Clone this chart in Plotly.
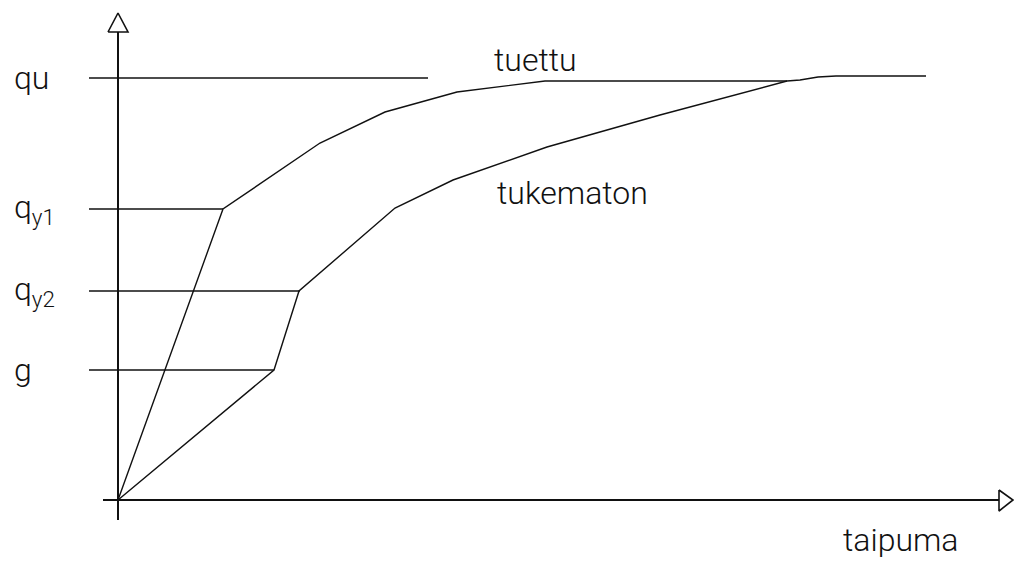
import plotly.graph_objects as go

# Load levels (q_u, q_y1, q_y2, g)
level_names = ["qu", "q<sub>y1</sub>", "q<sub>y2</sub>", "g"]
level_values = [4.22, 2.91, 2.09, 1.30]
level_line_ends = [3.10, 1.05, 1.82, 1.56]

# Load–deflection curves
tuettu_x = [0, 1.05, 2.02, 2.67, 3.39, 4.27, 6.69]
tuettu_y = [0, 2.91, 3.57, 3.88, 4.08, 4.19, 4.19]

tukematon_x = [0, 1.56, 1.81, 2.77, 3.35, 4.29, 5.42, 6.69, 6.82, 7.00, 7.18, 8.08]
tukematon_y = [0, 1.30, 2.09, 2.92, 3.20, 3.53, 3.85, 4.19, 4.20, 4.23, 4.24, 4.24]

curve_labels = ["tuettu", "tukematon"]
x_label = "taipuma"

INK = "#111111"
FONT = "Roboto"

fig = go.Figure()

# Horizontal level lines
for val, xend in zip(level_values, level_line_ends):
    fig.add_trace(go.Scatter(x=[-0.29, xend], y=[val, val], mode="lines",
                             line=dict(color=INK, width=1.6), hoverinfo="skip"))

# Curves
fig.add_trace(go.Scatter(x=tuettu_x, y=tuettu_y, mode="lines",
                         line=dict(color=INK, width=1.4), name=curve_labels[0]))
fig.add_trace(go.Scatter(x=tukematon_x, y=tukematon_y, mode="lines",
                         line=dict(color=INK, width=1.4), name=curve_labels[1]))

# Axes with open arrow heads
fig.add_trace(go.Scatter(x=[0, 0], y=[-0.20, 4.68], mode="lines",
                         line=dict(color=INK, width=2), hoverinfo="skip"))
fig.add_trace(go.Scatter(x=[-0.15, 8.81], y=[0, 0], mode="lines",
                         line=dict(color=INK, width=2), hoverinfo="skip"))
fig.add_trace(go.Scatter(x=[-0.10, 0, 0.10, -0.10], y=[4.68, 4.87, 4.68, 4.68],
                         mode="lines", fill="toself", fillcolor="white",
                         line=dict(color=INK, width=1.6), hoverinfo="skip"))
fig.add_trace(go.Scatter(x=[8.81, 8.95, 8.81, 8.81], y=[0.10, 0, -0.11, 0.10],
                         mode="lines", fill="toself", fillcolor="white",
                         line=dict(color=INK, width=1.6), hoverinfo="skip"))

font = dict(family=FONT, size=32, color=INK, weight=300)
for name, val in zip(level_names, level_values):
    fig.add_annotation(x=-1.06, y=val, text=name, showarrow=False,
                       xanchor="left", yanchor="middle", font=font)

fig.add_annotation(x=4.17, y=4.40, text=curve_labels[0], showarrow=False, font=font)
fig.add_annotation(x=4.54, y=3.07, text=curve_labels[1], showarrow=False, font=font)
fig.add_annotation(x=7.83, y=-0.40, text=x_label, showarrow=False, font=font)

fig.update_layout(
    width=1014, height=563, autosize=False,
    margin=dict(l=0, r=0, t=0, b=0),
    paper_bgcolor="white", plot_bgcolor="white",
    showlegend=False,
    xaxis=dict(range=[-1.18, 8.96], visible=False, fixedrange=True),
    yaxis=dict(range=[-0.63, 5.00], visible=False, fixedrange=True),
)

fig.write_html("out.html", config={"displayModeBar": False},
               post_script="document.body.style.margin='0';document.body.style.overflow='hidden';")
